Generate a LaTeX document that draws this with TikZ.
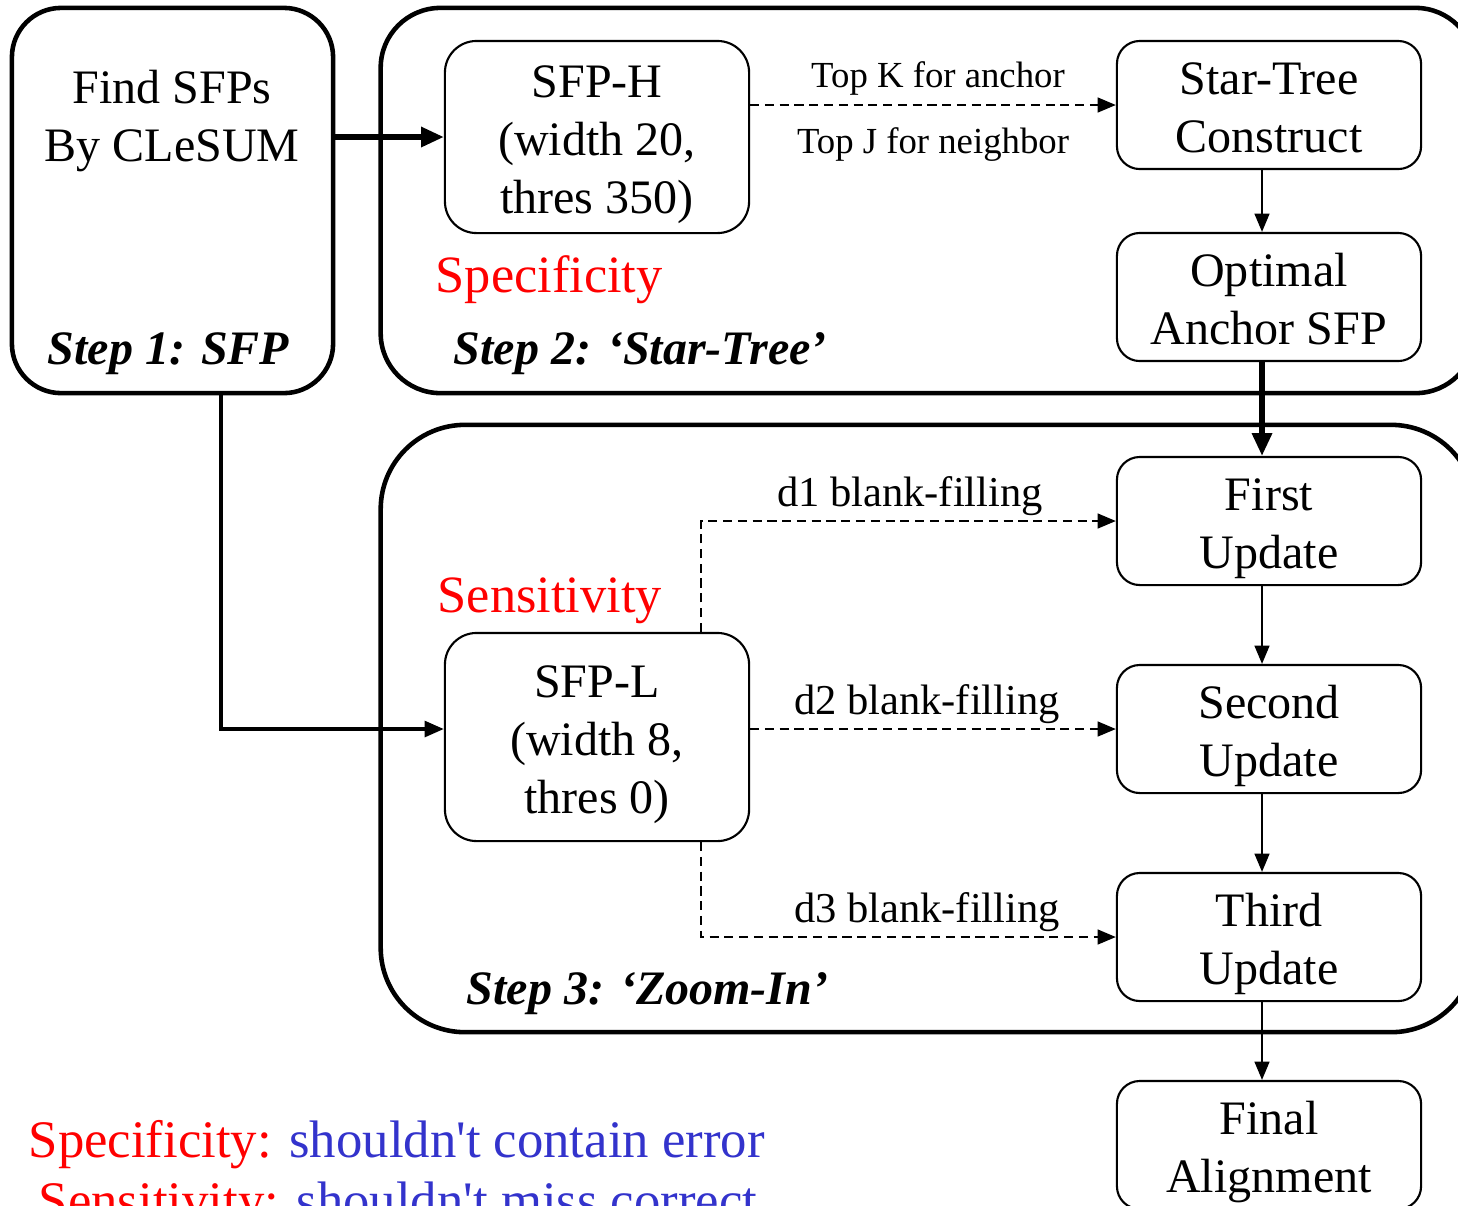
\documentclass[tikz,border=0pt]{standalone}
\usepackage{fontspec}
\setmainfont{Liberation Serif}
\usetikzlibrary{arrows.meta}
\definecolor{legendblue}{RGB}{51,51,204}
% taller first line, so the text block sits a little lower in its box
\newcommand{\boxstrut}{\rule{0pt}{0.47cm}}
\newcommand{\halfstrut}{\rule{0pt}{0.37cm}}
\begin{document}
\begin{tikzpicture}[x=0.01cm,y=-0.01cm,
  mainfont/.style={font=\fontsize{13.66pt}{16.4pt}\selectfont},
  stepframe/.style={draw, line width=1.3pt, inner sep=0pt},
  box/.style={draw, line width=0.6pt, rounded corners=6.5pt, inner sep=0pt,
    minimum width=3.04cm, minimum height=1.28cm, align=center, mainfont},
  sfpbox/.style={box, rounded corners=9pt, minimum height=1.92cm},
  steplabel/.style={anchor=base west, inner sep=0pt,
    font=\fontsize{13.66pt}{16.4pt}\selectfont\bfseries\itshape},
  redlabel/.style={anchor=base west, inner sep=0pt, text=red,
    font=\fontsize{14.9pt}{18pt}\selectfont},
  toplabel/.style={inner sep=0pt, font=\fontsize{10.45pt}{12.5pt}\selectfont},
  dlabel/.style={inner sep=0pt, font=\fontsize{12.1pt}{14.5pt}\selectfont},
  legend/.style={anchor=base west, inner sep=0pt, font=\fontsize{15pt}{18pt}\selectfont},
  flow/.style={line width=0.6pt, -{Triangle[length=5.2pt,width=4.2pt]}},
  thickflow/.style={line width=1.5pt, -{Triangle[length=6.5pt,width=5.5pt]}},
  dashflow/.style={line width=0.65pt, dash pattern=on 2.6pt off 1.6pt,
    -{Triangle[length=5.2pt,width=4.2pt]}},
]
\useasboundingbox (0,0) rectangle (1458,1205);
\clip (0,0) rectangle (1458,1205);

% stage frames
\node[stepframe, rounded corners=14pt, minimum width=3.21cm, minimum height=3.85cm] (s1) at (172.5,200.5) {};
\node[stepframe, rounded corners=17pt, minimum width=10.94cm, minimum height=3.85cm] (s2) at (928,200.5) {};
\node[stepframe, rounded corners=24pt, minimum width=10.94cm, minimum height=6.07cm] (s3) at (928,728.5) {};

% stage 1
\node[mainfont, align=center, inner sep=0pt] (find) at (172,121) {Find SFPs\\By CLeSUM};
\node[steplabel] (t1) at (47,364) {Step 1: SFP};

% stage 2
\node[sfpbox] (h) at (597,137) {\boxstrut SFP-H\\(width 20,\\thres 350)};
\node[box] (st) at (1269,105) {\halfstrut Star-Tree\\Construct};
\node[box] (opt) at (1269,297) {\halfstrut Optimal\\Anchor SFP};
\node[redlabel] (spec) at (435,292) {Specificity};
\node[steplabel] (t2) at (453,364) {Step 2: ‘Star-Tree’};
\node[toplabel] (tk) at (938,78) {Top K for anchor};
\node[toplabel] (tj) at (933,145) {Top J for neighbor};

% stage 3
\node[sfpbox, minimum height=2.08cm] (l) at (597,737) {\boxstrut SFP-L\\(width 8,\\thres 0)};
\node[box] (u1) at (1269,521) {\boxstrut First\\Update};
\node[box] (u2) at (1269,729) {\boxstrut Second\\Update};
\node[box] (u3) at (1269,937) {\boxstrut Third\\Update};
\node[box] (fin) at (1269,1145) {\boxstrut Final\\Alignment};
\node[redlabel] (sens) at (437,612) {Sensitivity};
\node[steplabel] (t3) at (466,1004) {Step 3: ‘Zoom-In’};
\node[dlabel] (d1) at (910,496) {d1 blank-filling};
\node[dlabel] (d2) at (927,704) {d2 blank-filling};
\node[dlabel] (d3) at (927,912) {d3 blank-filling};

% legend
\node[legend] (lg1) at (28,1157) {\textcolor{red}{Specificity:} \textcolor{legendblue}{shouldn\textquotesingle t contain error}};
\node[legend] (lg2) at (38,1218) {\textcolor{red}{Sensitivity:} \textcolor{legendblue}{shouldn\textquotesingle t miss correct}};

% helper points for off-centre connectors
\coordinate (ax) at (1262,0);
\coordinate (tap) at (701,0);
\coordinate (bend) at (221,729);

% connectors
\draw[thickflow] (h.west -| s1.east) -- (h.west);
\draw[line width=1pt, -{Triangle[length=5.5pt,width=4.5pt]}] (s1.south -| bend) -- (bend) -- (bend -| l.west);
\draw[dashflow] (h.east |- st.west) -- (st.west);
\draw[flow] (st.south -| ax) -- (opt.north -| ax);
\draw[thickflow] (opt.south -| ax) -- (u1.north -| ax);
\draw[flow] (u1.south -| ax) -- (u2.north -| ax);
\draw[flow] (u2.south -| ax) -- (u3.north -| ax);
\draw[flow] (u3.south -| ax) -- (fin.north -| ax);
\draw[dashflow] (l.north -| tap) -- (tap |- u1.west) -- (u1.west);
\draw[dashflow] (l.east |- u2.west) -- (u2.west);
\draw[dashflow] (l.south -| tap) -- (tap |- u3.west) -- (u3.west);
\end{tikzpicture}
\end{document}
